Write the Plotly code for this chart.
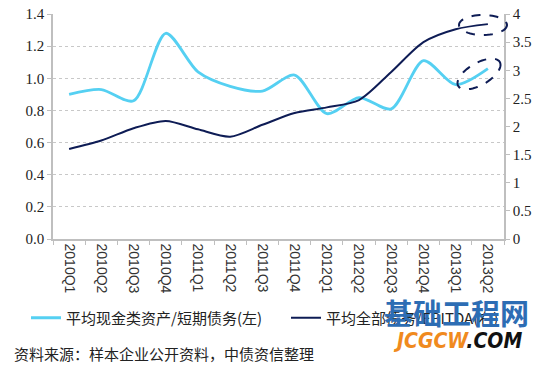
import numpy as np
import plotly.graph_objects as go

categories = ["2010Q1", "2010Q2", "2010Q3", "2010Q4", "2011Q1", "2011Q2", "2011Q3",
              "2011Q4", "2012Q1", "2012Q2", "2012Q3", "2012Q4", "2013Q1", "2013Q2"]
cash_ratio = [0.90, 0.93, 0.86, 1.28, 1.04, 0.95, 0.92, 1.02, 0.78, 0.88, 0.81, 1.11, 0.96, 1.06]
debt_ebitda = [1.60, 1.75, 1.97, 2.10, 1.95, 1.82, 2.03, 2.24, 2.34, 2.47, 2.97, 3.50, 3.73, 3.82]
left_ticks = [0.0, 0.2, 0.4, 0.6, 0.8, 1.0, 1.2, 1.4]
right_ticks = [0, 0.5, 1, 1.5, 2, 2.5, 3, 3.5, 4]

name_left = "平均现金类资产/短期债务(左)"
name_right = "平均全部债务/EBITDA(右)"
source = "资料来源：样本企业公开资料，中债资信整理"

LIGHT = "#55d0f2"
NAVY = "#0e1c55"
serif = "Liberation Serif, Times New Roman, serif"
cjk = "Noto Sans CJK SC, sans-serif"

# plot area in pixels
L, R, T, B = 53, 504, 14, 239
W, H = float(R - L), float(B - T)

def px_x(x):
    return (x - L) / W

def px_y(y):
    return (B - y) / H

fig = go.Figure()
fig.add_trace(go.Scatter(x=categories, y=cash_ratio, name=name_left, mode="lines",
                         line=dict(color=LIGHT, width=2.8, shape="spline", smoothing=0.8),
                         yaxis="y", legend="legend"))
fig.add_trace(go.Scatter(x=categories, y=debt_ebitda, name=name_right, mode="lines",
                         line=dict(color=NAVY, width=2.0, shape="spline", smoothing=0.8),
                         yaxis="y2", legend="legend2"))

def px_ellipse(cx, cy, rx, ry, ang_deg):
    a = np.deg2rad(ang_deg)
    t = np.linspace(0, 2 * np.pi, 60)
    x = cx + rx * np.cos(t) * np.cos(a) - ry * np.sin(t) * np.sin(a)
    y = cy + rx * np.cos(t) * np.sin(a) + ry * np.sin(t) * np.cos(a)
    return "M " + " L ".join(f"{px_x(p):.4f},{px_y(q):.4f}" for p, q in zip(x, y)) + " Z"

fig.add_shape(type="path", xref="paper", yref="paper",
              path=px_ellipse(483, 25, 24, 10, 0),
              line=dict(color=NAVY, width=2, dash="dash"))
fig.add_shape(type="path", xref="paper", yref="paper",
              path=px_ellipse(479, 74, 24, 11, -30),
              line=dict(color=NAVY, width=2, dash="dash"))

axis_col = "#bfbfbf"
leg_common = dict(orientation="h", xanchor="left", yanchor="middle",
                  font=dict(family=cjk, size=15, color="#222"), bgcolor="rgba(0,0,0,0)")
fig.update_layout(
    width=550, height=365,
    margin=dict(l=L, r=550 - R, t=T, b=365 - B, autoexpand=False),
    paper_bgcolor="white", plot_bgcolor="white",
    showlegend=True,
    legend=dict(x=px_x(26), y=px_y(318), **leg_common),
    legend2=dict(x=px_x(286), y=px_y(318), **leg_common),
    xaxis=dict(type="category", tickangle=90, tickson="boundaries", automargin=False,
               ticks="outside", ticklen=4, tickcolor=axis_col,
               showline=True, linecolor=axis_col, linewidth=1.5,
               showgrid=False, tickfont=dict(family="Liberation Sans, Arial", size=14, color="#333"),
               range=[-0.5, 13.5]),
    yaxis=dict(range=[0, 1.4], tickvals=left_ticks, ticktext=[f"{v:.1f}" for v in left_ticks],
               automargin=False,
               showline=True, linecolor=axis_col, linewidth=1.5, ticks="outside", ticklen=4,
               tickcolor=axis_col,
               showgrid=True, gridcolor="#c8c8c8", griddash="dot", gridwidth=1,
               tickfont=dict(family=serif, size=15, color="#222"), zeroline=False),
    yaxis2=dict(range=[0, 4], tickvals=right_ticks, ticktext=[f"{v:g}" for v in right_ticks],
                overlaying="y", side="right", automargin=False,
                showline=True, linecolor=axis_col, linewidth=1.5, ticks="outside", ticklen=4,
                tickcolor=axis_col, showgrid=False,
                tickfont=dict(family=serif, size=15, color="#222"), zeroline=False),
)

fig.add_annotation(text=source, xref="paper", yref="paper", x=px_x(12),
                   y=px_y(353), xanchor="left", yanchor="middle", showarrow=False,
                   font=dict(family=cjk, size=15, color="#222"))

# watermark
fig.add_annotation(text="<b>基础工程网</b>", xref="paper", yref="paper", x=px_x(456),
                   y=px_y(312), xanchor="center", yanchor="middle", showarrow=False,
                   font=dict(family=cjk, size=29, color="#2d6db4"))
fig.add_annotation(text="<b><i><span style='color:#f08a1e'>JCGCW</span>.COM</i></b>",
                   xref="paper", yref="paper", x=px_x(457),
                   y=px_y(341), xanchor="center", yanchor="middle", showarrow=False,
                   font=dict(family="DejaVu Sans Condensed, DejaVu Sans", size=21, color="#111"))

fig.write_html("out.html", config={"displayModeBar": False},
               post_script="document.body.style.margin='0px';")
